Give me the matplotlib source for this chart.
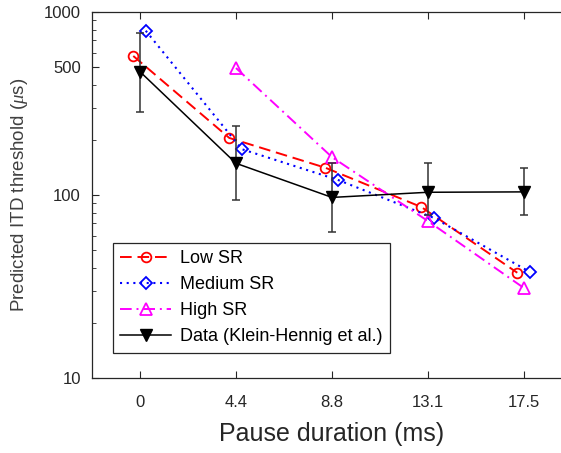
import matplotlib
matplotlib.use("Agg")
import matplotlib.pyplot as plt
from matplotlib.ticker import FixedLocator, FixedFormatter, LogLocator, NullFormatter

plt.rcParams['font.family'] = ['Liberation Sans', 'DejaVu Sans']
plt.rcParams['mathtext.fontset'] = 'custom'
plt.rcParams['mathtext.it'] = 'Liberation Serif:italic'

# pause durations (categorical positions 0..4)
pauses = ["0", "4.4", "8.8", "13.1", "17.5"]
idx = [0, 1, 2, 3, 4]

# predicted thresholds (us)
low_sr = [575, 205, 141, 86, 37.6]
medium_sr = [790, 178, 121, 75, 38]
high_sr = [None, 494, 161, 72, 31]

# measured data with error bars
data = [472, 149, 97, 103.5, 104]
data_lo = [283, 94, 63, 78, 78]
data_hi = [765, 238, 149, 150, 140]

grey = '#262626'

fig = plt.figure(figsize=(5.61, 4.53), dpi=100)
ax = fig.add_axes([92 / 561, 75 / 453, 480 / 561, 366 / 453])

# small horizontal offsets so the markers don't overlap
x_low = [i - 0.07 for i in idx]
x_med = [i + 0.06 for i in idx]
x_high = [i for i in idx[1:]]

ax.plot(x_low, low_sr, color='#ff0000', ls=(0, (6, 3)), lw=1.4,
        marker='o', ms=7, mfc='none', mew=1.3, label='Low SR')
ax.plot(x_med, medium_sr, color='#0000ff', ls=(0, (1, 2.2)), lw=1.5,
        marker='D', ms=6, mfc='none', mew=1.3, label='Medium SR')
ax.plot(x_high, high_sr[1:], color='#ff00ff', ls=(0, (6, 2.5, 1, 2.5)), lw=1.4,
        marker='^', ms=8, mfc='none', mew=1.3, label='High SR')

yerr = [[d - lo for d, lo in zip(data, data_lo)],
        [hi - d for d, hi in zip(data, data_hi)]]
ax.errorbar(idx, data, yerr=yerr, fmt='none', ecolor='#333333',
            elinewidth=1.1, capsize=3, capthick=1.1)
ax.plot(idx, data, color='black', lw=1.1, marker='v', ms=8,
        label='Data (Klein-Hennig et al.)')

ax.set_yscale('log')
ax.set_ylim(10, 1000)
ax.set_xlim(-0.5, 4.5)

ax.yaxis.set_major_locator(FixedLocator([10, 100, 500, 1000]))
ax.yaxis.set_major_formatter(FixedFormatter(['10', '100', '500', '1000']))
ax.yaxis.set_minor_locator(LogLocator(base=10, subs=range(2, 10)))
ax.yaxis.set_minor_formatter(NullFormatter())
ax.set_xticks(idx)
ax.set_xticklabels(pauses)

ax.tick_params(axis='both', which='both', direction='in', colors=grey,
               labelsize=12, top=True, right=False)
ax.tick_params(axis='both', which='major', length=5, width=0.8)
ax.tick_params(axis='both', which='minor', length=3, width=0.6)
ax.tick_params(axis='x', pad=12)
ax.tick_params(axis='y', pad=8)
for s in ax.spines.values():
    s.set_color(grey)
    s.set_linewidth(0.9)

ax.set_xlabel('Pause duration (ms)', fontsize=18, color=grey, labelpad=9)
ax.set_ylabel(r'Predicted ITD threshold ($\mu$s)', fontsize=13.5, color='#404040', labelpad=10)

leg = ax.legend(loc='upper left', bbox_to_anchor=(113 / 561, 1 - 243 / 453),
                bbox_transform=fig.transFigure, borderaxespad=0, fontsize=13,
                handlelength=2.8, handletextpad=0.5, labelspacing=0.5,
                borderpad=0.4, fancybox=False, framealpha=1)
leg.get_frame().set_edgecolor(grey)
leg.get_frame().set_linewidth(0.9)

fig.savefig('out.png', dpi=100)
